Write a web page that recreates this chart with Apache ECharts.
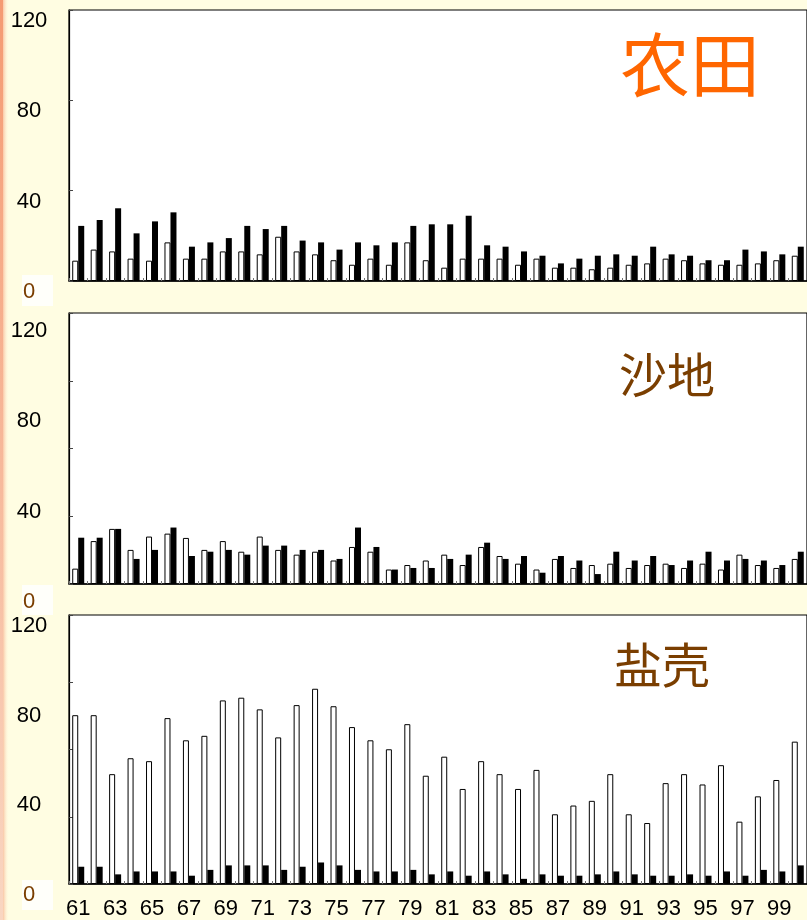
<!DOCTYPE html>
<html>
<head>
<meta charset="utf-8">
<script src="https://cdn.jsdelivr.net/npm/echarts@6/dist/echarts.min.js"></script>
<style>
  html, body { margin: 0; padding: 0; background: #FFFDE2; }
  #chart { width: 807px; height: 920px; }
</style>
</head>
<body>
<div id="chart"></div>
<script>
// Years 1961-2000 (two-digit labels)
const years = ['61','62','63','64','65','66','67','68','69','70',
               '71','72','73','74','75','76','77','78','79','80',
               '81','82','83','84','85','86','87','88','89','90',
               '91','92','93','94','95','96','97','98','99','100'];

// 农田 (farmland)
const farmOpen  = [9.0,13.9,13.1,9.9,9.0,17.1,9.9,9.9,13.1,13.1,11.8,19.6,
                   13.1,11.8,9.2,7.2,9.9,7.2,17.1,9.2,5.9,9.9,9.9,9.9,7.2,
                   9.9,5.9,5.9,5.2,5.9,7.2,7.8,9.9,9.2,7.8,7.2,7.2,7.8,9.2,11.2];
const farmSolid = [24.4,27.0,32.2,21.1,26.4,30.4,15.2,17.1,19.0,24.4,23.0,24.4,
                   17.9,17.1,13.9,17.1,15.8,17.1,24.4,25.1,25.1,28.9,15.8,15.2,13.1,
                   11.2,7.8,9.9,11.2,11.8,11.2,15.2,11.8,11.2,9.2,9.2,13.9,13.1,11.8,15.2];

// 沙地 (sandy land)
const sandOpen  = [6.8,19.0,24.4,15.1,21.0,22.3,20.4,15.1,19.0,14.3,21.0,15.1,
                   13.0,14.3,10.4,16.4,14.3,6.4,8.4,10.4,13.0,8.4,16.4,12.4,9.0,
                   6.4,11.1,7.1,8.4,9.0,7.1,8.4,9.0,7.1,9.0,6.4,13.0,8.4,7.1,11.1];
const sandSolid = [20.5,20.5,24.4,11.1,15.1,25.0,12.4,14.3,15.1,13.0,17.0,17.0,
                   15.1,15.1,11.1,25.0,16.4,6.4,7.1,7.1,11.1,13.0,18.3,11.1,12.4,
                   5.0,12.4,10.4,4.4,14.3,10.4,12.4,8.4,10.4,14.3,10.4,11.1,10.4,8.4,14.3];

// 盐壳 (salt crust)
const saltOpen  = [75.3,75.3,49.0,56.1,54.8,74.0,64.1,66.1,81.9,83.1,77.9,65.4,
                   79.8,87.1,79.3,70.0,64.1,60.1,71.3,48.3,56.8,42.4,54.8,49.0,42.4,
                   50.9,31.1,35.0,37.1,49.0,31.1,27.2,45.0,49.0,44.4,53.0,27.8,39.1,46.4,63.5];
const saltSolid = [7.7,7.7,4.3,5.6,5.6,5.6,3.7,6.3,8.3,8.3,8.3,6.3,
                   7.7,9.6,8.3,6.3,5.6,5.6,6.3,4.3,5.6,3.7,5.6,4.3,2.3,
                   4.3,3.7,3.7,4.3,5.6,4.3,3.7,3.7,4.3,3.7,5.6,3.7,6.3,5.6,8.3];

const panelNames = ['农田', '沙地', '盐壳'];
const yMax = 120;
const yLabelStep = 40;          // printed labels 0, 40, 80, 120
const yTickSteps = [40, 30, 30]; // inner tick spacing of each panel

const openSeries  = [farmOpen, sandOpen, saltOpen];
const solidSeries = [farmSolid, sandSolid, saltSolid];

const BROWN = '#7A3E00';
const plotTops = [10, 313, 615];
const plotH = 271;
const labelPad = [0, 7, 0];
const latin = '"Liberation Sans", Arial, sans-serif';

const grid = plotTops.map(t => ({
  left: 69, top: t, width: 741.6, height: plotH,
  show: true, backgroundColor: '#ffffff',
  borderColor: '#000', borderWidth: 1.2
}));

const xAxis = plotTops.map((t, i) => ({
  gridIndex: i, type: 'category', data: years, boundaryGap: true,
  axisLine: { show: true, lineStyle: { color: '#000', width: 1.5 } },
  axisTick: { show: true, inside: true, length: 3, interval: 0, lineStyle: { color: '#777', width: 1 } },
  axisLabel: i === 2
    ? { show: true, interval: 1, margin: 14, color: '#000', fontSize: 22, fontFamily: latin }
    : { show: false },
  splitLine: { show: false }
}));

const yAxis = [];
plotTops.forEach((t, i) => {
  // frame axis with inner ticks
  yAxis.push({
    gridIndex: i, type: 'value', min: 0, max: yMax, interval: yTickSteps[i], position: 'left',
    axisLine: { show: true, lineStyle: { color: '#000', width: 1.2 } },
    axisTick: { show: true, inside: true, length: 4, lineStyle: { color: '#444' } },
    axisLabel: { show: false },
    splitLine: { show: false }
  });
  // printed scale labels
  yAxis.push({
    gridIndex: i, type: 'value', min: 0, max: yMax, interval: yLabelStep, position: 'left', offset: 0,
    axisLine: { show: false }, axisTick: { show: false }, splitLine: { show: false },
    axisLabel: {
      show: true, margin: 40, align: 'center', verticalAlign: 'top',
      padding: [labelPad[i], 0, 0, 0],
      color: '#000', fontSize: 22, fontFamily: latin,
      formatter: v => (v === 0 ? '{z|0}' : String(v)),
      rich: { z: { color: BROWN, fontSize: 22, fontFamily: latin } }
    }
  });
});

const series = [];
plotTops.forEach((t, i) => {
  series.push({
    type: 'bar', xAxisIndex: i, yAxisIndex: 2 * i, data: openSeries[i],
    barWidth: 6, barGap: '0%', silent: true,
    itemStyle: { color: '#fff', borderColor: '#000', borderWidth: 1 }
  });
  series.push({
    type: 'bar', xAxisIndex: i, yAxisIndex: 2 * i, data: solidSeries[i],
    barWidth: 6, barGap: '0%', silent: true,
    itemStyle: { color: '#000' }
  });
});

const title = [
  { text: panelNames[0], left: 620, top: 30, padding: 0,
    textStyle: { color: '#FF6600', fontSize: 70, fontWeight: 'normal', fontFamily: '"Noto Sans CJK SC"' } },
  { text: panelNames[1], left: 619, top: 351, padding: 0,
    textStyle: { color: BROWN, fontSize: 48, fontWeight: 'normal', fontFamily: '"Noto Sans CJK SC"' } },
  { text: panelNames[2], left: 614, top: 641, padding: 0,
    textStyle: { color: BROWN, fontSize: 48, fontWeight: 'normal', fontFamily: '"Noto Sans CJK SC"' } }
];

const graphic = [
  { type: 'rect', z: -10, silent: true, shape: { x: 0, y: 0, width: 3, height: 920 },
    style: { fill: new echarts.graphic.LinearGradient(0, 0, 0, 1, [
      { offset: 0, color: '#F59A72' }, { offset: 1, color: '#F9D6C2' }]) } },
  { type: 'rect', z: -10, silent: true, shape: { x: 3, y: 0, width: 6, height: 920 },
    style: { fill: new echarts.graphic.LinearGradient(0, 0, 1, 0, [
      { offset: 0, color: 'rgba(247,175,140,0.7)' }, { offset: 1, color: 'rgba(255,253,226,0)' }]) } },
  { type: 'rect', z: -5, silent: true, shape: { x: 22, y: 275, width: 31, height: 31 }, style: { fill: '#FFFFFA' } },
  { type: 'rect', z: -5, silent: true, shape: { x: 22, y: 585, width: 31, height: 30 }, style: { fill: '#FFFFFA' } },
  { type: 'rect', z: -5, silent: true, shape: { x: 22, y: 880, width: 31, height: 30 }, style: { fill: '#FFFFFA' } }
];

const chart = echarts.init(document.getElementById('chart'), null, { renderer: 'canvas' });
chart.setOption({
  backgroundColor: '#FFFDE2',
  animation: false,
  title, grid, xAxis, yAxis, series, graphic,
  tooltip: { show: false }
});
</script>
</body>
</html>
